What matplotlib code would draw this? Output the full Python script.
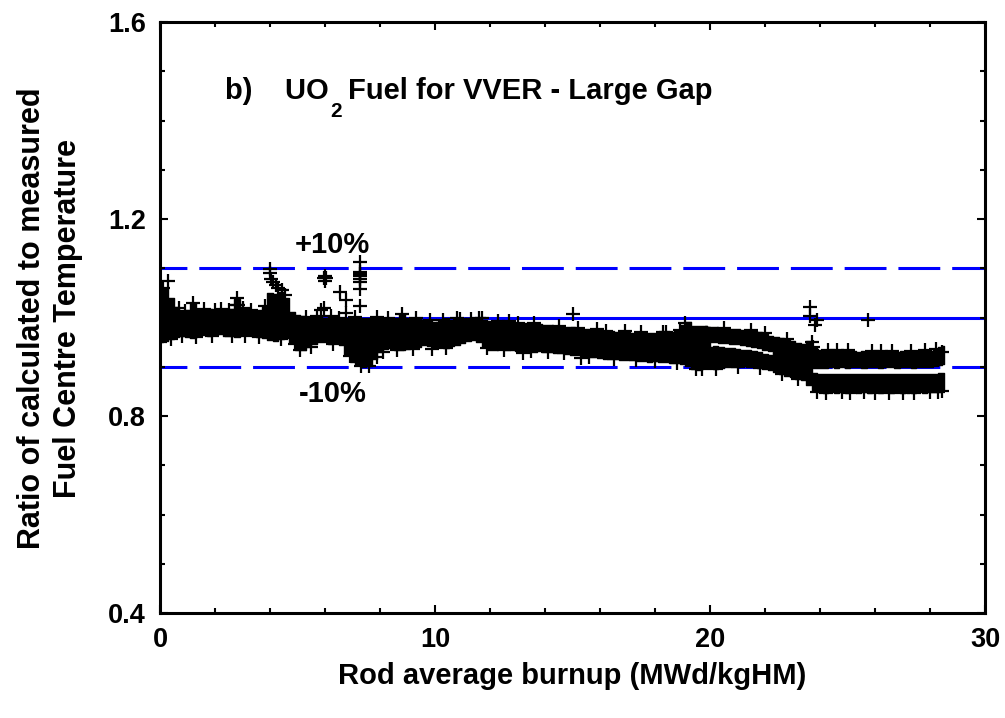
import matplotlib
matplotlib.use("Agg")
import matplotlib.pyplot as plt
from matplotlib.ticker import MultipleLocator

plt.rcParams["font.family"] = ["Liberation Sans", "DejaVu Sans"]
plt.rcParams["font.weight"] = "bold"

# --- Envelope of the dense measurement cloud (single band, 0-20 MWd/kgHM) ---
main_burnup = [0.0, 0.2, 0.4, 0.6, 0.8, 1.0, 1.2, 1.4, 1.6, 1.8,
               2.0, 2.2, 2.4, 2.6, 2.8, 3.0, 3.2, 3.4, 3.6, 3.8,
               4.0, 4.2, 4.4, 4.6, 4.8, 5.0, 5.2, 5.4, 5.6, 5.8,
               6.0, 6.2, 6.4, 6.6, 6.8, 7.0, 7.2, 7.4, 7.6, 7.8,
               8.0, 8.2, 8.4, 8.6, 8.8, 9.0, 9.2, 9.4, 9.6, 9.8,
               10.0, 10.2, 10.4, 10.6, 10.8, 11.0, 11.2, 11.4, 11.6, 11.8,
               12.0, 12.2, 12.4, 12.6, 12.8, 13.0, 13.2, 13.4, 13.6, 13.8,
               14.0, 14.2, 14.4, 14.6, 14.8, 15.0, 15.2, 15.4, 15.6, 15.8,
               16.0, 16.2, 16.4, 16.6, 16.8, 17.0, 17.2, 17.4, 17.6, 17.8,
               18.0, 18.2, 18.4, 18.6, 18.8, 19.0, 19.2, 19.4, 19.6, 19.8,
               20.0]
main_hi = [1.055, 1.060, 1.040, 1.022, 1.012, 1.015, 1.030, 1.018, 1.015, 1.017,
           1.014, 1.016, 1.015, 1.018, 1.038, 1.017, 1.014, 1.016, 1.015, 1.022,
           1.050, 1.048, 1.052, 1.040, 1.012, 1.006, 1.003, 1.000, 1.001, 1.003,
           1.000, 1.001, 0.999, 1.000, 1.000, 1.001, 0.999, 1.000, 0.998, 1.000,
           1.000, 0.999, 0.998, 1.000, 1.008, 1.000, 0.998, 0.997, 0.995, 0.993,
           0.991, 0.992, 0.998, 0.994, 0.995, 0.996, 0.998, 0.996, 0.997, 0.994,
           0.993, 0.992, 0.991, 0.990, 0.990, 0.989, 0.988, 0.988, 0.986, 0.986,
           0.985, 0.984, 0.983, 0.982, 0.981, 0.980, 0.978, 0.977, 0.976, 0.975,
           0.974, 0.972, 0.972, 0.971, 0.970, 0.970, 0.969, 0.970, 0.968, 0.968,
           0.968, 0.969, 0.970, 0.970, 0.972, 0.985, 0.990, 0.983, 0.982, 0.983,
           0.980]
main_lo = [0.950, 0.953, 0.956, 0.960, 0.962, 0.961, 0.959, 0.963, 0.965, 0.962,
           0.964, 0.966, 0.963, 0.962, 0.960, 0.964, 0.965, 0.962, 0.960, 0.958,
           0.955, 0.952, 0.956, 0.958, 0.948, 0.935, 0.934, 0.940, 0.946, 0.950,
           0.951, 0.947, 0.950, 0.944, 0.925, 0.910, 0.905, 0.899, 0.902, 0.915,
           0.930, 0.936, 0.938, 0.934, 0.933, 0.936, 0.938, 0.941, 0.945, 0.942,
           0.940, 0.941, 0.939, 0.942, 0.944, 0.948, 0.953, 0.954, 0.950, 0.940,
           0.935, 0.934, 0.936, 0.933, 0.934, 0.931, 0.932, 0.933, 0.930, 0.931,
           0.929, 0.930, 0.928, 0.927, 0.926, 0.924, 0.923, 0.922, 0.920, 0.919,
           0.918, 0.916, 0.915, 0.916, 0.914, 0.913, 0.913, 0.912, 0.912, 0.910,
           0.911, 0.909, 0.910, 0.908, 0.908, 0.906, 0.902, 0.896, 0.893, 0.900,
           0.905]

# --- Two branches after ~20 MWd/kgHM ---
branch_burnup = [19.8, 20.0, 20.2, 20.4, 20.6, 20.8, 21.0, 21.2, 21.4, 21.6,
                 21.8, 22.0, 22.2, 22.4, 22.6, 22.8, 23.0, 23.2, 23.4, 23.6,
                 23.8, 24.0, 24.2, 24.4, 24.6, 24.8, 25.0, 25.2, 25.4, 25.6,
                 25.8, 26.0, 26.2, 26.4, 26.6, 26.8, 27.0, 27.2, 27.4, 27.6,
                 27.8, 28.0, 28.2, 28.4, 28.5]
upper_hi = [0.983, 0.980, 0.980, 0.979, 0.978, 0.977, 0.976, 0.975, 0.974, 0.972,
            0.970, 0.967, 0.963, 0.960, 0.958, 0.955, 0.952, 0.948, 0.946, 0.953,
            0.940, 0.935, 0.932, 0.933, 0.931, 0.932, 0.934, 0.931, 0.930, 0.932,
            0.931, 0.930, 0.931, 0.930, 0.931, 0.930, 0.931, 0.930, 0.931, 0.932,
            0.931, 0.932, 0.936, 0.940, 0.942]
upper_lo = [0.948, 0.950, 0.950, 0.949, 0.948, 0.947, 0.946, 0.944, 0.942, 0.940,
            0.938, 0.935, 0.931, 0.927, 0.915, 0.910, 0.905, 0.900, 0.898, 0.897,
            0.897, 0.898, 0.898, 0.899, 0.898, 0.899, 0.898, 0.899, 0.899, 0.898,
            0.899, 0.899, 0.898, 0.899, 0.899, 0.898, 0.899, 0.899, 0.898, 0.899,
            0.899, 0.900, 0.901, 0.903, 0.905]
lower_hi = [0.940, 0.940, 0.942, 0.940, 0.939, 0.938, 0.937, 0.935, 0.934, 0.932,
            0.930, 0.926, 0.924, 0.927, 0.918, 0.912, 0.908, 0.905, 0.900, 0.895,
            0.888, 0.886, 0.885, 0.886, 0.885, 0.886, 0.885, 0.886, 0.885, 0.886,
            0.885, 0.886, 0.885, 0.886, 0.885, 0.886, 0.885, 0.886, 0.885, 0.886,
            0.885, 0.886, 0.886, 0.887, 0.887]
lower_lo = [0.900, 0.898, 0.896, 0.897, 0.899, 0.900, 0.900, 0.901, 0.900, 0.899,
            0.898, 0.895, 0.893, 0.890, 0.886, 0.882, 0.879, 0.876, 0.874, 0.862,
            0.850, 0.848, 0.847, 0.848, 0.847, 0.848, 0.847, 0.848, 0.847, 0.848,
            0.847, 0.848, 0.847, 0.848, 0.847, 0.848, 0.847, 0.848, 0.847, 0.848,
            0.847, 0.848, 0.848, 0.849, 0.850]

# --- Individual points standing out from the cloud ---
single_burnup = [0.3, 2.75, 2.8, 2.85, 4.0, 4.0, 4.05, 4.1, 4.2, 4.3, 4.45, 4.55,
                 5.85, 5.95, 5.95, 6.0, 6.05, 6.0, 6.55, 6.75, 6.78,
                 7.27, 7.27, 7.27, 7.27, 7.27, 7.27, 7.27, 7.27,
                 7.9, 9.9, 10.8, 11.7, 13.2, 14.1, 15.0, 15.3, 18.4,
                 23.64, 23.64, 23.88, 23.8, 23.7, 23.75, 23.7, 25.76]
single_ratio = [1.075, 1.025, 1.040, 1.025, 1.099, 1.090, 1.078, 1.072, 1.065, 1.060, 1.055, 1.045,
                1.015, 1.020, 1.080, 1.085, 1.080, 1.075, 1.051, 1.035, 1.010,
                1.113, 1.092, 1.089, 1.085, 1.079, 1.072, 1.058, 1.024,
                0.919, 0.936, 1.000, 1.000, 0.927, 0.929, 1.008, 0.918, 0.970,
                1.021, 1.004, 0.994, 0.984, 0.950, 0.940, 0.935, 0.994]

# --- Points sitting on the fringe of the cloud ---
fringe_burnup = [0.1, 0.7, 0.9, 1.2, 1.6, 2.0, 2.2, 2.5, 3.0, 3.3, 3.8, 5.3, 5.7, 6.2, 6.5,
                 7.1, 7.9, 8.3, 8.8, 9.3, 9.8, 10.3, 10.9, 11.3, 11.6, 12.3, 12.7, 13.0,
                 13.6, 14.5, 15.2, 15.9, 16.2, 16.9, 17.5, 18.3, 18.9, 19.1, 20.5, 21.5,
                 22.0, 22.8, 24.3, 24.6, 25.0, 25.9, 26.2, 26.6, 27.3, 27.8, 28.2, 28.45,
                 0.0, 0.4, 0.8, 1.3, 1.9, 2.6, 3.1, 3.6, 4.4, 4.9, 5.1, 5.5, 6.3, 6.9,
                 7.3, 7.6, 8.1, 8.6, 9.2, 10.4, 11.9, 12.5, 13.5, 14.7, 15.6, 16.5,
                 17.3, 18.0, 18.8, 19.5, 19.7, 20.2, 21.0, 21.8, 22.6, 23.2, 23.9,
                 24.2, 24.8, 25.1, 25.6, 26.0, 26.5, 27.0, 27.4, 28.0, 28.3, 28.45]
fringe_ratio = [1.060, 1.020, 1.014, 1.030, 1.017, 1.015, 1.018, 1.016, 1.020, 1.015, 1.024,
                1.002, 1.003, 1.003, 1.000, 1.002, 1.002, 1.000, 1.008, 0.998, 0.995,
                0.995, 0.997, 0.997, 0.999, 0.992, 0.992, 0.989, 0.988, 0.983, 0.979,
                0.977, 0.972, 0.972, 0.970, 0.971, 0.974, 0.988, 0.979, 0.974, 0.968,
                0.957, 0.934, 0.933, 0.934, 0.931, 0.932, 0.931, 0.931, 0.933, 0.936,
                0.930,
                0.950, 0.956, 0.962, 0.961, 0.962, 0.962, 0.963, 0.960, 0.956, 0.946,
                0.935, 0.940, 0.947, 0.922, 0.902, 0.902, 0.930, 0.934, 0.937, 0.939,
                0.938, 0.934, 0.932, 0.927, 0.920, 0.915, 0.913, 0.911, 0.907, 0.895,
                0.896, 0.896, 0.900, 0.898, 0.886, 0.876, 0.849, 0.847, 0.848, 0.847,
                0.848, 0.847, 0.847, 0.847, 0.847, 0.848, 0.848, 0.850]

# Reference levels: ideal agreement and +/-10 % bounds
ideal_ratio = 1.0
upper_bound = 1.1
lower_bound = 0.9

fig = plt.figure(figsize=(10.05, 7.18), dpi=100)
ax = fig.add_axes([160 / 1005, 1 - 613 / 718, 825 / 1005, 591 / 718])

ax.axhline(ideal_ratio, color="#0000ff", lw=2.2, zorder=1)
for level in (upper_bound, lower_bound):
    ax.axhline(level, color="#0000ff", lw=2.2, linestyle=(4.9, (13.7, 3.9)), zorder=1)

for xs, lo, hi in ((main_burnup, main_lo, main_hi),
                   (branch_burnup, upper_lo, upper_hi),
                   (branch_burnup, lower_lo, lower_hi)):
    ax.fill_between(xs, lo, hi, step="mid", facecolor="black", edgecolor="black",
                    lw=1.0, zorder=2)

ax.plot(fringe_burnup, fringe_ratio, linestyle="none", marker="+", color="black",
        markersize=9.5, markeredgewidth=1.6, zorder=3)
ax.plot(single_burnup, single_ratio, linestyle="none", marker="+", color="black",
        markersize=9.5, markeredgewidth=1.6, zorder=3)

ax.set_xlim(0, 30)
ax.set_ylim(0.4, 1.6)
ax.xaxis.set_minor_locator(MultipleLocator(2))
ax.yaxis.set_minor_locator(MultipleLocator(0.1))
ax.set_xticks([0, 10, 20, 30])
ax.set_xticklabels(["0", "10", "20", "30"])
ax.set_yticks([0.4, 0.8, 1.2, 1.6])
ax.set_yticklabels(["0.4", "0.8", "1.2", "1.6"])

ax.tick_params(which="both", direction="in", top=True, right=True, width=1.5)
ax.tick_params(which="major", length=6, labelsize=19.5, pad=10)
ax.tick_params(which="minor", length=3.5)
for lab in ax.get_xticklabels() + ax.get_yticklabels():
    lab.set_fontweight("bold")
for sp in ax.spines.values():
    sp.set_linewidth(2.2)

# Panel title, with the subscript set as its own smaller, lowered piece of text
title_base_px = 718 - 99
t_head = fig.text(225 / 1005, title_base_px / 718, "b)    UO", fontsize=21,
                  fontweight="bold", ha="left", va="baseline")
renderer = fig.canvas.get_renderer()
bb_head = t_head.get_window_extent(renderer)
t_sub = fig.text((bb_head.x1 + 1) / 1005, (title_base_px - 18) / 718, "2", fontsize=15,
                 fontweight="bold", ha="left", va="baseline")
bb_sub = t_sub.get_window_extent(renderer)
fig.text((bb_sub.x1 + 7) / 1005, title_base_px / 718, "Fuel for VVER - Large Gap",
         fontsize=21, fontweight="bold", ha="left", va="baseline")

ax.text(6.27, 1.148, "+10%", fontsize=21, fontweight="bold", ha="center", va="center")
ax.text(6.29, 0.845, "-10%", fontsize=21, fontweight="bold", ha="center", va="center")

fig.text(572 / 1005, 1 - 684 / 718, "Rod average burnup (MWd/kgHM)", fontsize=21,
         fontweight="bold", ha="center", va="baseline")
fig.text(50 / 1005, 1 - 318 / 718, "Ratio of calculated to measured\nFuel Centre Temperature",
         fontsize=22, fontweight="bold", ha="center", va="center", rotation=90,
         multialignment="center", linespacing=1.28)

fig.savefig("out.png", dpi=100)
